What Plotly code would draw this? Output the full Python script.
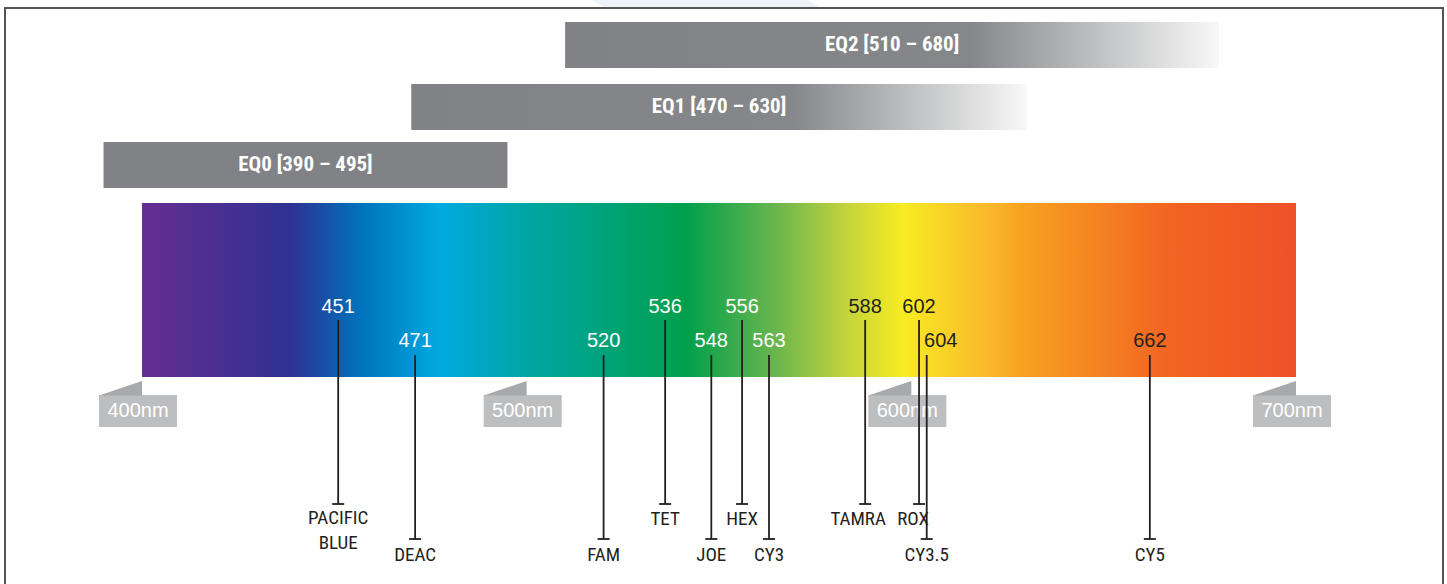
import plotly.graph_objects as go

# ---------------- data ----------------
spectrum_nm = [400, 700]
tick_nm = [400, 500, 600, 700]
tick_labels = ["400nm", "500nm", "600nm", "700nm"]

eq_names = ["EQ0", "EQ1", "EQ2"]
eq_start_nm = [390, 470, 510]
eq_end_nm = [495, 630, 680]

dye_names = ["PACIFIC<br>BLUE", "DEAC", "FAM", "TET", "JOE", "HEX", "CY3",
             "TAMRA", "ROX", "CY3.5", "CY5"]
dye_peak_nm = [451, 471, 520, 536, 548, 556, 563, 588, 602, 604, 662]

# ---------------- layout / style ----------------
W, H = 1447, 584
X0_PX = 142                 # pixel of 400 nm
PX_PER_NM = 1154 / 300      # horizontal scale
def dnm(px):                # pixel distance -> nm distance
    return px / PX_PER_NM

x_range = [400 - dnm(X0_PX), 400 + dnm(W - X0_PX)]

label_tier = [0, 1, 1, 0, 1, 0, 1, 0, 0, 1, 1]   # 0 = upper, 1 = lower
num_dx_px = [0, 0, 0, 0, 0, 0, 0, 0, 0, 14, 0]   # small label nudges (px)
name_dx_px = [0, 0, 0, 0, 0, 0, 0, -7, -6, 0, 0]
tier_num_y = [308, 342]
tier_line_top = [320, 355]
tier_line_bot = [504, 539]
tier_name_y = [520, 556]

eq_top = [142, 84, 22]
eq_h = 46
eq_fade = [False, True, True]

BAR_TOP, BAR_BOT = 203, 377
DARK = "#231f20"
GREY = "#808285"

spectrum_scale = [
    [0.000, "#662d91"],
    [0.129, "#2e3192"],
    [0.189, "#0072bc"],
    [0.258, "#00aae1"],
    [0.321, "#00a6ad"],
    [0.471, "#00a04c"],
    [0.551, "#6cb64d"],
    [0.608, "#c0d23d"],
    [0.659, "#f8ec22"],
    [0.737, "#fbb52d"],
    [0.763, "#f7a21f"],
    [0.888, "#f26522"],
    [1.000, "#ef5128"],
]

NARROW = "Liberation Sans Narrow, Arial Narrow, Roboto Condensed, sans-serif"
REGULAR = "Liberation Sans, Arial, Helvetica, sans-serif"

fig = go.Figure()

# EQ range bars
for i, (name, s, e) in enumerate(zip(eq_names, eq_start_nm, eq_end_nm)):
    y0, y1 = eq_top[i], eq_top[i] + eq_h
    kw = dict(x=[s, e, e, s, s], y=[y0, y0, y1, y1, y0], fill="toself",
              mode="lines", line=dict(width=0, color="rgba(0,0,0,0)"),
              hoverinfo="skip", showlegend=False)
    if eq_fade[i]:
        kw["fillgradient"] = dict(type="horizontal",
                                  colorscale=[[0, GREY], [0.62, "#85878a"],
                                              [1, "#f8f8f8"]])
    else:
        kw["fillcolor"] = GREY
    fig.add_trace(go.Scatter(**kw))
    fig.add_trace(go.Scatter(
        x=[(s + e) / 2], y=[(y0 + y1) / 2 + 1], mode="text",
        text=[f"<b>{name} [{s} – {e}]</b>"],
        textfont=dict(family=NARROW, size=21, color="white"),
        textposition="middle center", hoverinfo="skip", showlegend=False))

# spectrum bar
a, b = spectrum_nm
fig.add_trace(go.Scatter(
    x=[a, b, b, a, a], y=[BAR_TOP, BAR_TOP, BAR_BOT, BAR_BOT, BAR_TOP],
    fill="toself", mode="lines", line=dict(width=0, color="rgba(0,0,0,0)"),
    fillgradient=dict(type="horizontal", colorscale=spectrum_scale),
    hoverinfo="skip", showlegend=False))

# tick boxes (shapes, below traces)
shapes = []
for t in tick_nm:
    shapes.append(dict(type="rect", xref="x", yref="y", layer="below",
                       x0=t - dnm(43), x1=t + dnm(35), y0=395, y1=427,
                       fillcolor="#bcbec0", line=dict(width=0)))
    shapes.append(dict(type="path", xref="x", yref="y", layer="below",
                       path=f"M {t - dnm(43)},395.5 L {t},395.5 L {t},381 Z",
                       fillcolor="#a7a9ac", line=dict(width=0)))

fig.add_trace(go.Scatter(
    x=[t - dnm(4) for t in tick_nm], y=[412] * len(tick_nm), mode="text",
    text=tick_labels, textfont=dict(family=REGULAR, size=20, color="white"),
    textposition="middle center", hoverinfo="skip", showlegend=False))

# dye leader lines
lx, ly = [], []
for v, tr in zip(dye_peak_nm, label_tier):
    top, bot = tier_line_top[tr], tier_line_bot[tr]
    lx += [v, v, None, v - dnm(6), v + dnm(6), None]
    ly += [top, bot, None, bot, bot, None]
fig.add_trace(go.Scatter(x=lx, y=ly, mode="lines",
                         line=dict(color=DARK, width=1.8),
                         hoverinfo="skip", showlegend=False))

# peak numbers
fig.add_trace(go.Scatter(
    x=[v + dnm(d) for v, d in zip(dye_peak_nm, num_dx_px)],
    y=[tier_num_y[t] for t in label_tier], mode="text",
    text=[str(v) for v in dye_peak_nm],
    textfont=dict(family=REGULAR, size=20,
                  color=[DARK if v > 575 else "white" for v in dye_peak_nm]),
    textposition="middle center", hoverinfo="skip", showlegend=False))

# dye names
fig.add_trace(go.Scatter(
    x=[v + dnm(d) for v, d in zip(dye_peak_nm, name_dx_px)],
    y=[tier_name_y[t] + 11.5 * n.count("<br>") for n, t in zip(dye_names, label_tier)],
    mode="text", text=dye_names,
    textfont=dict(family=NARROW, size=19, color=DARK),
    textposition="middle center", hoverinfo="skip", showlegend=False))

# frame and faint top decoration (paper coords)
def px(xp): return xp / W
def py(yp): return 1 - yp / H
shapes.append(dict(type="path", xref="paper", yref="paper", layer="below",
                   path=f"M {px(592)},{py(0)} L {px(604)},{py(7)} L {px(820)},{py(7)} L {px(808)},{py(0)} Z",
                   fillcolor="#eef3fa", line=dict(width=0)))
shapes.append(dict(type="path", xref="paper", yref="paper", layer="above",
                   path=f"M {px(5)},{py(600)} L {px(5)},{py(8)} L {px(1443)},{py(8)} L {px(1443)},{py(600)}",
                   line=dict(color="#555555", width=2)))

fig.update_layout(
    width=W, height=H, margin=dict(l=0, r=0, t=0, b=0, pad=0),
    paper_bgcolor="white", plot_bgcolor="white", showlegend=False,
    xaxis=dict(range=x_range, visible=False, fixedrange=True),
    yaxis=dict(range=[H, 0], visible=False, fixedrange=True),
    shapes=shapes, hovermode=False,
)

fig.write_html("out.html",
               config={"displayModeBar": False},
               post_script="document.body.style.margin='0px';"
                           "document.body.style.overflow='hidden';")
